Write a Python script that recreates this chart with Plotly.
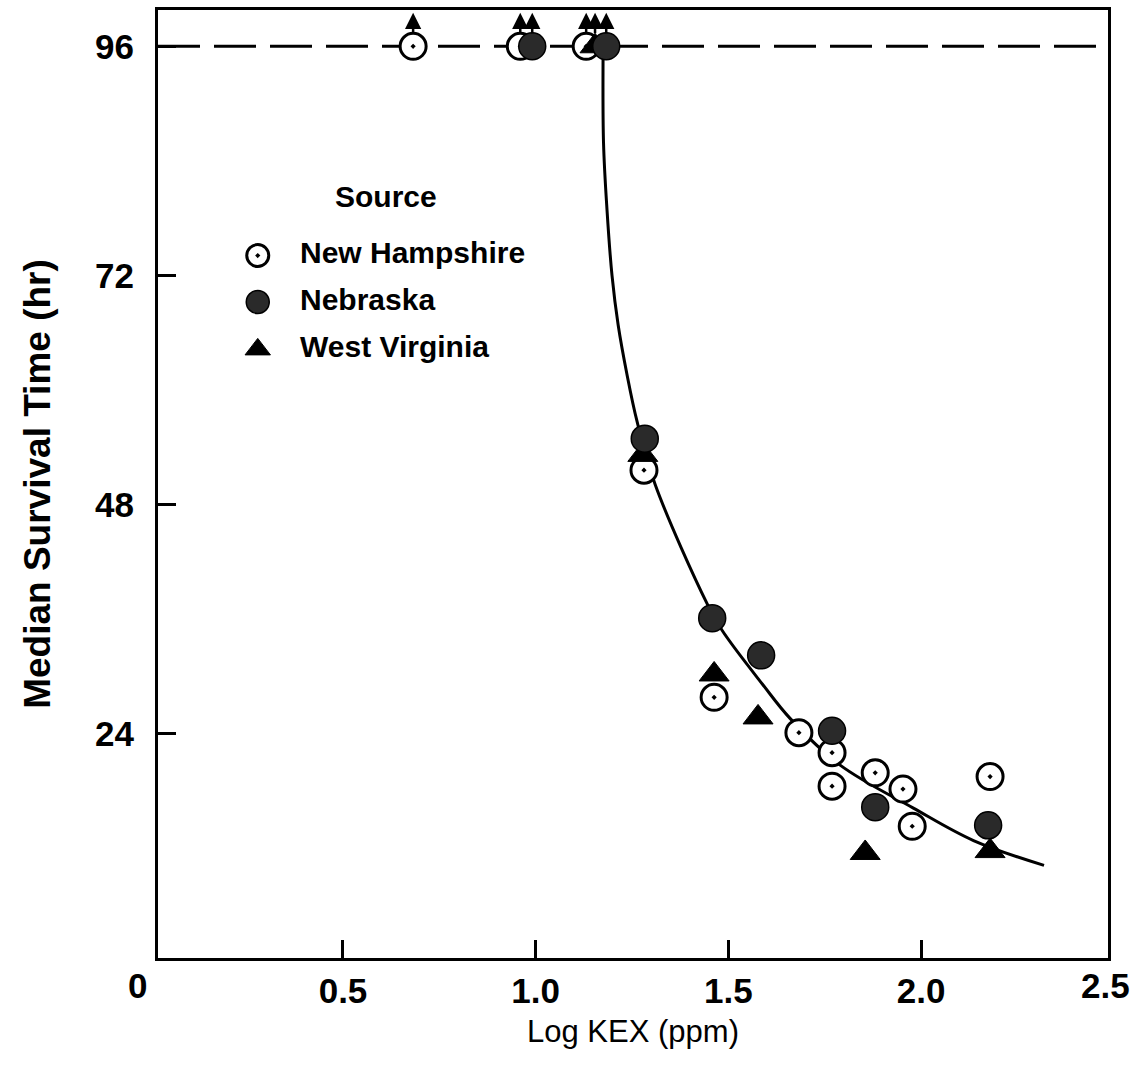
import plotly.graph_objects as go

# Median survival time (hr) against log KEX (ppm), by source of the test fish.
CENSOR_HR = 96  # tests ended at 96 hr; points at this level survived longer

nh_x = [0.682, 0.960, 1.131, 1.281, 1.463, 1.683, 1.769, 1.769, 1.881, 1.953, 1.977, 2.179]
nh_y = [96, 96, 96, 51.6, 27.8, 24.1, 22.0, 18.5, 19.9, 18.2, 14.3, 19.5]

neb_x = [0.991, 1.183, 1.283, 1.458, 1.585, 1.769, 1.881, 2.174]
neb_y = [96, 96, 54.9, 36.1, 32.2, 24.3, 16.3, 14.4]

wv_x = [1.154, 1.278, 1.463, 1.577, 1.855, 2.179]
wv_y = [96, 53.2, 30.2, 25.7, 11.5, 11.7]

# hand-fitted response curve
curve_x = [1.175, 1.176, 1.185, 1.198, 1.214, 1.237, 1.263, 1.310, 1.445, 1.484,
           1.590, 1.660, 1.790, 1.980, 2.136, 2.319]
curve_y = [96, 85.9, 78.9, 72.0, 66.8, 61.6, 56.7, 50.1, 37.6, 34.8,
           29.1, 25.6, 20.7, 16.2, 12.8, 10.2]

x_tick_vals = [0.5, 1.0, 1.5, 2.0]
x_tick_text = ["0.5", "1.0", "1.5", "2.0"]
x_end_labels = ["0", "2.5"]
y_tick_vals = [24, 48, 72, 96]

sources = ["New Hampshire", "Nebraska", "West Virginia"]

FONT = "Liberation Sans"
INK = "black"
NEB_FILL = "#2a2a2a"
TICK_FONT = dict(family=FONT, size=35, color=INK, weight="bold")

fig = go.Figure()

fig.add_trace(go.Scatter(
    x=curve_x, y=curve_y, mode="lines", line=dict(color=INK, width=3, shape="spline"),
    hoverinfo="skip", showlegend=False))

nh_marker = dict(symbol="circle-dot", size=26, color="white", line=dict(color=INK, width=3))
neb_marker = dict(symbol="circle", size=27, color=NEB_FILL, line=dict(color=INK, width=1.5))
wv_marker = dict(symbol="triangle-up", size=26, color=INK, line=dict(color=INK, width=1))

fig.add_trace(go.Scatter(x=nh_x, y=nh_y, mode="markers", marker=nh_marker,
                         name=sources[0], showlegend=False))
fig.add_trace(go.Scatter(x=wv_x, y=wv_y, mode="markers", marker=wv_marker,
                         name=sources[2], showlegend=False))
fig.add_trace(go.Scatter(x=neb_x, y=neb_y, mode="markers", marker=neb_marker,
                         name=sources[1], showlegend=False))

# key drawn on an overlay axis spanning the plot area in fractions
key_y = [0.741, 0.692, 0.642]
key_markers = [nh_marker, neb_marker, wv_marker]
for i, name in enumerate(sources):
    m = dict(key_markers[i])
    m["size"] = m["size"] - 4
    fig.add_trace(go.Scatter(x=[0.105], y=[key_y[i]], mode="markers", marker=m,
                             xaxis="x2", yaxis="y2", hoverinfo="skip", showlegend=False))
    fig.add_annotation(x=0.147, y=key_y[i] + 0.003, xref="paper", yref="paper", text=name,
                       showarrow=False, xanchor="left", yanchor="middle",
                       font=dict(family=FONT, size=30, color=INK, weight="bold"))
fig.add_annotation(x=0.24, y=0.803, xref="paper", yref="paper", text="Source",
                   showarrow=False, xanchor="center", yanchor="middle",
                   font=dict(family=FONT, size=30, color=INK, weight="bold"))

# upward arrows on censored points
for xs, ys in ((nh_x, nh_y), (neb_x, neb_y), (wv_x, wv_y)):
    for xv, yv in zip(xs, ys):
        if yv >= CENSOR_HR:
            fig.add_annotation(x=xv, y=yv + 3.5, ax=xv, ay=yv + 1.2, xref="x", yref="y",
                               axref="x", ayref="y", text="", showarrow=True,
                               arrowhead=2, arrowsize=1.3, arrowwidth=2.5, arrowcolor=INK)

# 96-hr reference line
fig.add_shape(type="line", xref="paper", x0=0, x1=1, yref="y", y0=CENSOR_HR, y1=CENSOR_HR,
              line=dict(color=INK, width=3, dash="42px,14px"), layer="below")

# end labels of the x axis sit at the frame corners
for lab, px in zip(x_end_labels, [-0.022, 0.997]):
    fig.add_annotation(x=px, y=0, xref="paper", yref="paper", yshift=-6, text=lab,
                       showarrow=False, xanchor="center", yanchor="top", font=TICK_FONT)

fig.update_layout(
    width=1135, height=1080,
    margin=dict(l=158, r=27, t=7, b=122),
    paper_bgcolor="white", plot_bgcolor="white",
    font=dict(family=FONT, color=INK),
    xaxis=dict(range=[0.02, 2.485], tickvals=x_tick_vals, ticktext=x_tick_text,
               ticks="inside", ticklen=18, tickwidth=2.5, tickcolor=INK,
               showline=True, linecolor=INK, linewidth=3, mirror=True,
               showgrid=False, zeroline=False, ticklabelstandoff=0,
               tickfont=TICK_FONT,
               title=dict(text="Log KEX (ppm)", standoff=12,
                          font=dict(family=FONT, size=31, color=INK))),
    yaxis=dict(range=[0.5, 99.8], tickvals=y_tick_vals,
               ticks="inside", ticklen=18, tickwidth=2.5, tickcolor=INK,
               showline=True, linecolor=INK, linewidth=3, mirror=True,
               showgrid=False, zeroline=False, ticklabelstandoff=14,
               tickfont=TICK_FONT,
               title=dict(text="Median Survival Time (hr)", standoff=34,
                          font=dict(family=FONT, size=37, color=INK, weight="bold"))),
    xaxis2=dict(range=[0, 1], overlaying="x", visible=False, fixedrange=True),
    yaxis2=dict(range=[0, 1], overlaying="y", visible=False, fixedrange=True),
)

fig.write_html("out.html")
